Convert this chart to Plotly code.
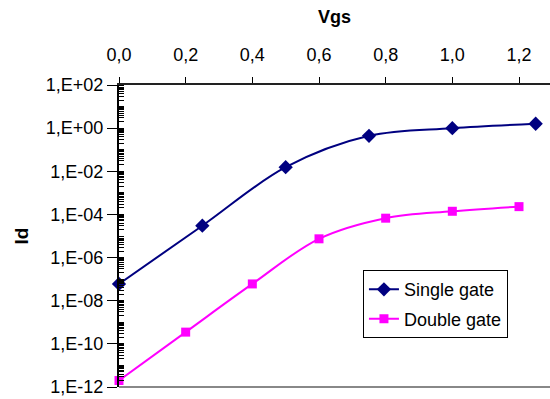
import plotly.graph_objects as go

# Data
single_vgs = [0.0, 0.25, 0.5, 0.75, 1.0, 1.25]
single_id = [6e-8, 3e-5, 1.55e-2, 0.44, 1.0, 1.6]
double_vgs = [0.0, 0.2, 0.4, 0.6, 0.8, 1.0, 1.2]
double_id = [2e-12, 3.5e-10, 6e-8, 7.4e-6, 6.7e-5, 1.4e-4, 2.3e-4]

x_tickvals = [0.0, 0.2, 0.4, 0.6, 0.8, 1.0, 1.2]
x_ticktext = ["0,0", "0,2", "0,4", "0,6", "0,8", "1,0", "1,2"]
y_tickvals = [1e-12, 1e-10, 1e-8, 1e-6, 1e-4, 1e-2, 1e0, 1e2]
y_ticktext = ["1,E-12", "1,E-10", "1,E-08", "1,E-06", "1,E-04", "1,E-02", "1,E+00", "1,E+02"]

FONT = "Liberation Sans, Arial, sans-serif"

fig = go.Figure()
fig.add_trace(go.Scatter(
    x=single_vgs, y=single_id, name="Single gate", mode="lines+markers",
    legendgroup="a",
    line=dict(color="#000080", width=2, shape="spline", smoothing=1),
    marker=dict(symbol="diamond", size=11, color="#000080"),
    cliponaxis=False,
))
fig.add_trace(go.Scatter(
    x=double_vgs, y=double_id, name="Double gate", mode="lines+markers",
    legendgroup="b",
    line=dict(color="#FF00FF", width=2, shape="spline", smoothing=1),
    marker=dict(symbol="square", size=9, color="#FF00FF"),
    cliponaxis=False,
))

fig.update_layout(
    width=550, height=399,
    margin=dict(l=119, r=0, t=85, b=12),
    paper_bgcolor="white", plot_bgcolor="white",
    font=dict(family=FONT, size=18, color="black"),
    showlegend=True,
    legend=dict(
        x=0.566, y=0.387, xanchor="left", yanchor="top",
        bgcolor="white", bordercolor="black", borderwidth=1,
        font=dict(size=18, family=FONT),
        tracegroupgap=3,
    ),
    xaxis=dict(
        side="top", range=[0, 1.293], tickmode="array",
        tickvals=x_tickvals, ticktext=x_ticktext,
        ticks="outside", ticklen=6, tickcolor="black", tickwidth=1,
        showline=True, linecolor="#222222", linewidth=2,
        showgrid=False, zeroline=False,
        ticklabelstandoff=9,
        title=dict(text="<b>Vgs</b>", font=dict(size=18, family=FONT), standoff=16),
    ),
    yaxis=dict(
        type="log", range=[-12, 2], tickmode="array",
        tickvals=y_tickvals, ticktext=y_ticktext,
        ticks="outside", ticklen=10, tickcolor="black", tickwidth=1,
        minor=dict(ticks="inside", ticklen=5, dtick="D1", tickcolor="black", tickwidth=1, showgrid=False),
        showline=True, linecolor="black", linewidth=2,
        showgrid=False, zeroline=False,
        title=dict(text="<b>Id</b>", font=dict(size=19, family=FONT), standoff=12),
    ),
)

fig.add_shape(type="line", xref="paper", yref="paper", x0=0, x1=1, y0=0, y1=0,
              line=dict(color="#888888", width=2), layer="above")

fig.write_html("out.html")
